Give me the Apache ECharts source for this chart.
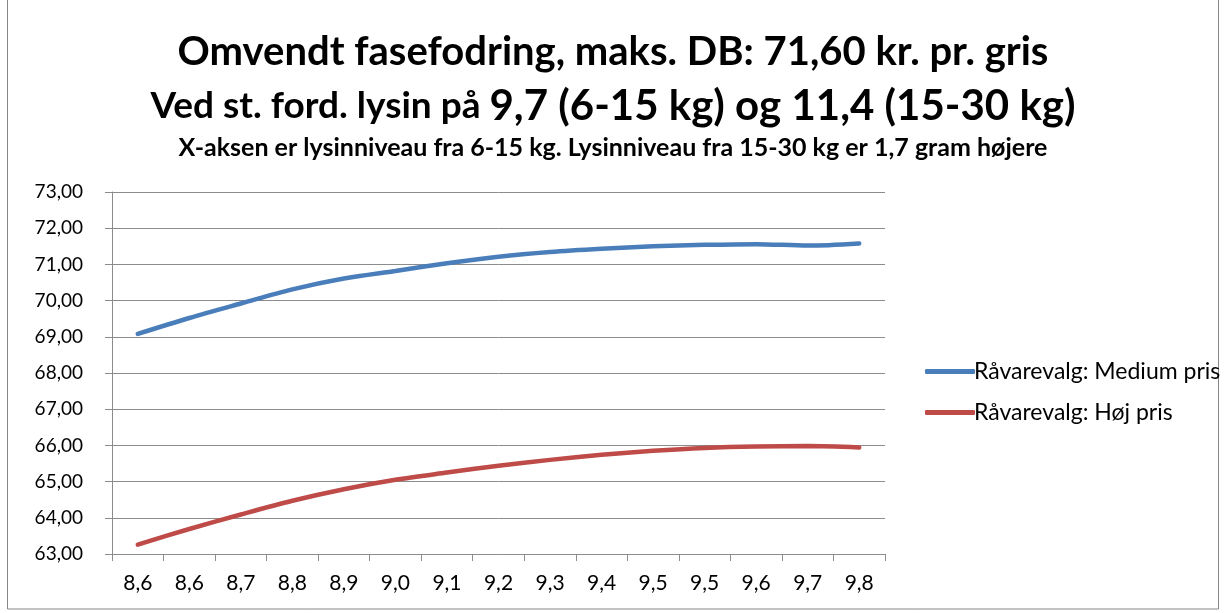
<!DOCTYPE html>
<html>
<head>
<meta charset="utf-8">
<script src="https://cdn.jsdelivr.net/npm/echarts@6/dist/echarts.min.js"></script>
<style>
html,body{margin:0;padding:0;background:#fff;}
#chart{width:1226px;height:613px;}
</style>
</head>
<body>
<div id="chart"></div>
<script>
const categories = ['8,6','8,6','8,7','8,8','8,9','9,0','9,1','9,2','9,3','9,4','9,5','9,5','9,6','9,7','9,8'];
const mediumPris = [69.08,69.52,69.92,70.31,70.61,70.82,71.03,71.21,71.34,71.43,71.50,71.54,71.56,71.52,71.58];
const hojPris = [63.26,63.69,64.09,64.47,64.79,65.05,65.25,65.44,65.60,65.74,65.85,65.93,65.97,65.98,65.94];
const seriesNames = ['Råvarevalg: Medium pris','Råvarevalg: Høj pris'];
const yMin = 63, yMax = 73, yStep = 1;

const FONT = 'Lato';
const chart = echarts.init(document.getElementById('chart'));
const gray = '#8c8c8c';
chart.setOption({
  animation: false,
  backgroundColor: '#fff',
  textStyle: {fontFamily: FONT},
  title: [
    {text: 'Omvendt fasefodring, maks. DB: 71,60 kr. pr. gris', left: 'center', top: 27,
     textStyle: {fontFamily: FONT, fontWeight: 'bold', fontSize: 40, color: '#000'}},
    {text: '{a|Ved st. ford. lysin på }{b|9,7 (6-15 kg) og 11,4 (15-30 kg)}', left: 'center', top: 80,
     textStyle: {rich: {
       a: {fontFamily: FONT, fontWeight: 'bold', fontSize: 37, color: '#000'},
       b: {fontFamily: FONT, fontWeight: 'bold', fontSize: 42, color: '#000'}
     }}},
    {text: 'X-aksen er lysinniveau fra 6-15 kg. Lysinniveau fra 15-30 kg er 1,7 gram højere', left: 'center', top: 130,
     textStyle: {fontFamily: FONT, fontWeight: 'bold', fontSize: 25, color: '#000'}}
  ],
  legend: {
    orient: 'vertical', left: 920, top: 355, itemGap: 18,
    itemWidth: 50, itemHeight: 5, icon: 'roundRect',
    textStyle: {fontFamily: FONT, fontSize: 23, color: '#000', padding: [0,0,0,-6]},
    data: seriesNames
  },
  grid: {left: 112, top: 192, right: 341, bottom: 59, containLabel: false},
  xAxis: {
    type: 'category', data: categories, boundaryGap: true,
    axisLine: {lineStyle: {color: gray, width: 1}},
    axisTick: {show: true, alignWithLabel: false, length: 7, lineStyle: {color: gray}},
    axisLabel: {color: '#000', fontSize: 21, fontFamily: FONT, margin: 19, interval: 0},
    splitLine: {show: false}
  },
  yAxis: {
    type: 'value', min: yMin, max: yMax, interval: yStep,
    axisLine: {show: true, lineStyle: {color: gray, width: 1}},
    axisTick: {show: true, length: 7, lineStyle: {color: gray}},
    axisLabel: {color: '#000', fontSize: 19, fontFamily: FONT, margin: 29,
      formatter: v => v.toFixed(2).replace('.', ',')},
    splitLine: {show: true, lineStyle: {color: gray, width: 1}}
  },
  series: [
    {name: seriesNames[0], type: 'line', data: mediumPris, smooth: 0.3, symbol: 'none',
     lineStyle: {color: '#4A7EBB', width: 4.5, cap: 'round'}, itemStyle: {color: '#4A7EBB'}},
    {name: seriesNames[1], type: 'line', data: hojPris, smooth: 0.3, symbol: 'none',
     lineStyle: {color: '#BE4B48', width: 4.5, cap: 'round'}, itemStyle: {color: '#BE4B48'}}
  ],
  graphic: [
    {type: 'rect', shape: {x: 7.5, y: -2, width: 1211, height: 611}, style: {fill: 'none', stroke: '#868686', lineWidth: 1}, silent: true}
  ]
});
</script>
</body>
</html>
